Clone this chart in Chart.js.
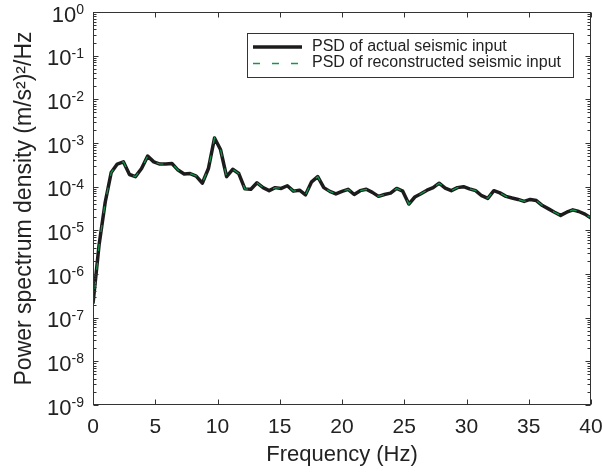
<!DOCTYPE html>
<html>
<head>
<meta charset="utf-8">
<script src="https://cdn.jsdelivr.net/npm/chart.js@4.4.1/dist/chart.umd.min.js"></script>
<style>
  body { margin: 0; background: #fff; }
  canvas { display: block; }
</style>
</head>
<body>
<canvas id="psdChart" width="603" height="472"></canvas>
<script>
// frequency bins (Hz)
const freqHz = [0, 0.49, 0.98, 1.46, 1.95, 2.44, 2.93, 3.41, 3.90, 4.39,
  4.88, 5.37, 5.85, 6.34, 6.83, 7.32, 7.80, 8.29, 8.78, 9.27,
  9.76, 10.24, 10.73, 11.22, 11.71, 12.20, 12.68, 13.17, 13.66, 14.15,
  14.63, 15.12, 15.61, 16.10, 16.59, 17.07, 17.56, 18.05, 18.54, 19.02,
  19.51, 20.00, 20.49, 20.98, 21.46, 21.95, 22.44, 22.93, 23.41, 23.90,
  24.39, 24.88, 25.37, 25.85, 26.34, 26.83, 27.32, 27.80, 28.29, 28.78,
  29.27, 29.76, 30.24, 30.73, 31.22, 31.71, 32.20, 32.68, 33.17, 33.66,
  34.15, 34.63, 35.12, 35.61, 36.10, 36.59, 37.07, 37.56, 38.05, 38.54,
  39.02, 39.51, 40.00];

// PSD of actual seismic input ((m/s2)^2/Hz)
const psdActual = [2.1e-7, 4.7e-6, 4.4e-5, 2.1e-4, 3.3e-4, 3.7e-4, 1.9e-4, 1.7e-4, 2.6e-4, 5.0e-4,
  3.7e-4, 3.3e-4, 3.3e-4, 3.4e-4, 2.4e-4, 1.95e-4, 2.0e-4, 1.75e-4, 1.2e-4, 2.6e-4,
  1.3e-3, 7.1e-4, 1.7e-4, 2.5e-4, 2.0e-4, 8.9e-5, 8.7e-5, 1.23e-4, 9.5e-5, 8.1e-5,
  9.5e-5, 9.1e-5, 1.05e-4, 7.9e-5, 8.3e-5, 6.5e-5, 1.29e-4, 1.7e-4, 9.5e-5, 7.8e-5,
  6.8e-5, 7.8e-5, 8.7e-5, 6.6e-5, 8.1e-5, 8.7e-5, 7.4e-5, 6.0e-5, 6.6e-5, 7.1e-5,
  9.1e-5, 7.9e-5, 4.0e-5, 5.8e-5, 6.9e-5, 8.3e-5, 9.5e-5, 1.2e-4, 9.3e-5, 8.1e-5,
  9.5e-5, 1.0e-4, 8.9e-5, 8.1e-5, 6.2e-5, 5.4e-5, 8.1e-5, 7.2e-5, 6.0e-5, 5.5e-5,
  5.1e-5, 4.6e-5, 5.1e-5, 4.8e-5, 3.7e-5, 3.1e-5, 2.6e-5, 2.2e-5, 2.6e-5, 2.95e-5,
  2.7e-5, 2.35e-5, 1.9e-5];

// PSD of reconstructed seismic input (practically on top of the actual one)
const psdReconstructed = [1.7e-7, 4.6e-6, 4.4e-5, 2.1e-4, 3.3e-4, 3.7e-4, 1.9e-4, 1.7e-4, 2.6e-4, 5.0e-4,
  3.7e-4, 3.3e-4, 3.3e-4, 3.4e-4, 2.4e-4, 1.95e-4, 2.0e-4, 1.75e-4, 1.2e-4, 2.6e-4,
  1.3e-3, 7.1e-4, 1.7e-4, 2.5e-4, 2.0e-4, 8.9e-5, 8.7e-5, 1.23e-4, 9.5e-5, 8.1e-5,
  9.5e-5, 9.1e-5, 1.05e-4, 7.9e-5, 8.3e-5, 6.5e-5, 1.29e-4, 1.7e-4, 9.5e-5, 7.8e-5,
  6.8e-5, 7.8e-5, 8.7e-5, 6.6e-5, 8.1e-5, 8.7e-5, 7.4e-5, 6.0e-5, 6.6e-5, 7.1e-5,
  9.1e-5, 7.9e-5, 4.0e-5, 5.8e-5, 6.9e-5, 8.3e-5, 9.5e-5, 1.2e-4, 9.3e-5, 8.1e-5,
  9.5e-5, 1.0e-4, 8.9e-5, 8.1e-5, 6.2e-5, 5.4e-5, 8.1e-5, 7.2e-5, 6.0e-5, 5.5e-5,
  5.1e-5, 4.6e-5, 5.1e-5, 4.8e-5, 3.7e-5, 3.1e-5, 2.6e-5, 2.2e-5, 2.6e-5, 2.95e-5,
  2.7e-5, 2.35e-5, 1.9e-5];

const xTicks = [0, 5, 10, 15, 20, 25, 30, 35, 40];
const yExponents = [-9, -8, -7, -6, -5, -4, -3, -2, -1, 0];

const FONT = '"Liberation Sans", Arial, Helvetica, sans-serif';
const INK = '#222';
const GREEN = '#12984a';

// MATLAB-like box, inward ticks, 10^n labels and the boxed legend
const matlabAxes = {
  id: 'matlabAxes',
  afterDraw(chart) {
    const { ctx, chartArea: a, scales: { x, y } } = chart;
    ctx.save();
    ctx.strokeStyle = '#333';
    ctx.lineWidth = 1;
    const L = a.left + 0.5, R = a.right - 0.5, T = a.top + 0.5, B = a.bottom - 0.5;
    ctx.strokeRect(L, T, R - L, B - T);

    ctx.beginPath();
    xTicks.forEach(v => {
      const px = Math.round(x.getPixelForValue(v)) + 0.5;
      ctx.moveTo(px, B); ctx.lineTo(px, B - 5);
      ctx.moveTo(px, T); ctx.lineTo(px, T + 5);
    });
    yExponents.forEach(e => {
      for (let m = 1; m <= 9; m++) {
        const v = m * Math.pow(10, e);
        if (v > 1.0000001) break;
        const py = Math.round(y.getPixelForValue(v)) + 0.5;
        const len = m === 1 ? 5 : 3;
        ctx.moveTo(L, py); ctx.lineTo(L + len, py);
        ctx.moveTo(R, py); ctx.lineTo(R - len, py);
      }
    });
    ctx.stroke();

    // y tick labels: 10 with superscript exponent
    ctx.fillStyle = INK;
    ctx.textAlign = 'right';
    ctx.textBaseline = 'alphabetic';
    yExponents.forEach(e => {
      const py = y.getPixelForValue(Math.pow(10, e));
      const sup = String(e);
      ctx.font = '14px ' + FONT;
      const supW = ctx.measureText(sup).width;
      ctx.fillText(sup, 84, py + 2);
      ctx.font = '22px ' + FONT;
      ctx.fillText('10', 84 - supW, py + 9.5);
    });

    // legend
    const ds = chart.data.datasets;
    const bx = 247, by = 33, bw = 326, bh = 44;
    ctx.fillStyle = '#fff';
    ctx.fillRect(bx, by, bw, bh);
    ctx.strokeStyle = '#333';
    ctx.lineWidth = 1;
    ctx.strokeRect(bx + 0.5, by + 0.5, bw, bh);

    ctx.lineCap = 'butt';
    ctx.strokeStyle = ds[0].borderColor;
    ctx.lineWidth = ds[0].borderWidth;
    ctx.beginPath(); ctx.moveTo(253, 47); ctx.lineTo(302, 47); ctx.stroke();

    ctx.strokeStyle = ds[1].borderColor;
    ctx.lineWidth = 1.4;
    ctx.setLineDash(ds[1].borderDash);
    ctx.beginPath(); ctx.moveTo(253, 63.5); ctx.lineTo(302, 63.5); ctx.stroke();
    ctx.setLineDash([]);

    ctx.fillStyle = INK;
    ctx.textAlign = 'left';
    ctx.textBaseline = 'middle';
    ctx.font = '16px ' + FONT;
    ctx.fillText(ds[0].label, 312, 47);
    ctx.fillText(ds[1].label, 312, 63);
    ctx.restore();
  }
};

const ctx = document.getElementById('psdChart').getContext('2d');
new Chart(ctx, {
  type: 'line',
  data: {
    datasets: [
      {
        label: 'PSD of actual seismic input',
        data: freqHz.map((f, i) => ({ x: f, y: psdActual[i] })),
        borderColor: '#1c1c1c',
        borderWidth: 3.5,
        borderJoinStyle: 'round',
        pointRadius: 0,
        tension: 0,
        order: 1
      },
      {
        label: 'PSD of reconstructed seismic input',
        data: freqHz.map((f, i) => ({ x: f, y: psdReconstructed[i] })),
        borderColor: GREEN,
        borderWidth: 1.2,
        borderDash: [7, 12],
        pointRadius: 0,
        tension: 0,
        order: 0
      }
    ]
  },
  options: {
    responsive: false,
    animation: false,
    events: [],
    layout: { padding: { top: 12, right: 12, left: 0, bottom: 0 } },
    plugins: {
      legend: { display: false },
      tooltip: { enabled: false }
    },
    scales: {
      x: {
        type: 'linear',
        min: 0,
        max: 40,
        grid: { display: false, drawTicks: false },
        border: { display: false },
        ticks: {
          stepSize: 5,
          autoSkip: false,
          maxRotation: 0,
          padding: 10,
          color: INK,
          font: { family: FONT, size: 21 }
        },
        title: {
          display: true,
          text: 'Frequency (Hz)',
          color: INK,
          font: { family: FONT, size: 22 },
          padding: { top: 0, bottom: 4 }
        },
        afterFit(scale) {
          scale.height = 67;
          scale.paddingLeft = 0;
          scale.paddingRight = 0;
        }
      },
      y: {
        type: 'logarithmic',
        min: 1e-9,
        max: 1,
        grid: { display: false, drawTicks: false },
        border: { display: false },
        ticks: { display: false },
        title: {
          display: true,
          text: 'Power spectrum density (m/s²)²/Hz',
          color: INK,
          font: { family: FONT, size: 23 },
          padding: { top: 11, bottom: 0 }
        },
        afterFit(scale) {
          scale.width = 93;
          scale.paddingTop = 0;
          scale.paddingBottom = 0;
        }
      }
    }
  },
  plugins: [matlabAxes]
});
</script>
</body>
</html>
